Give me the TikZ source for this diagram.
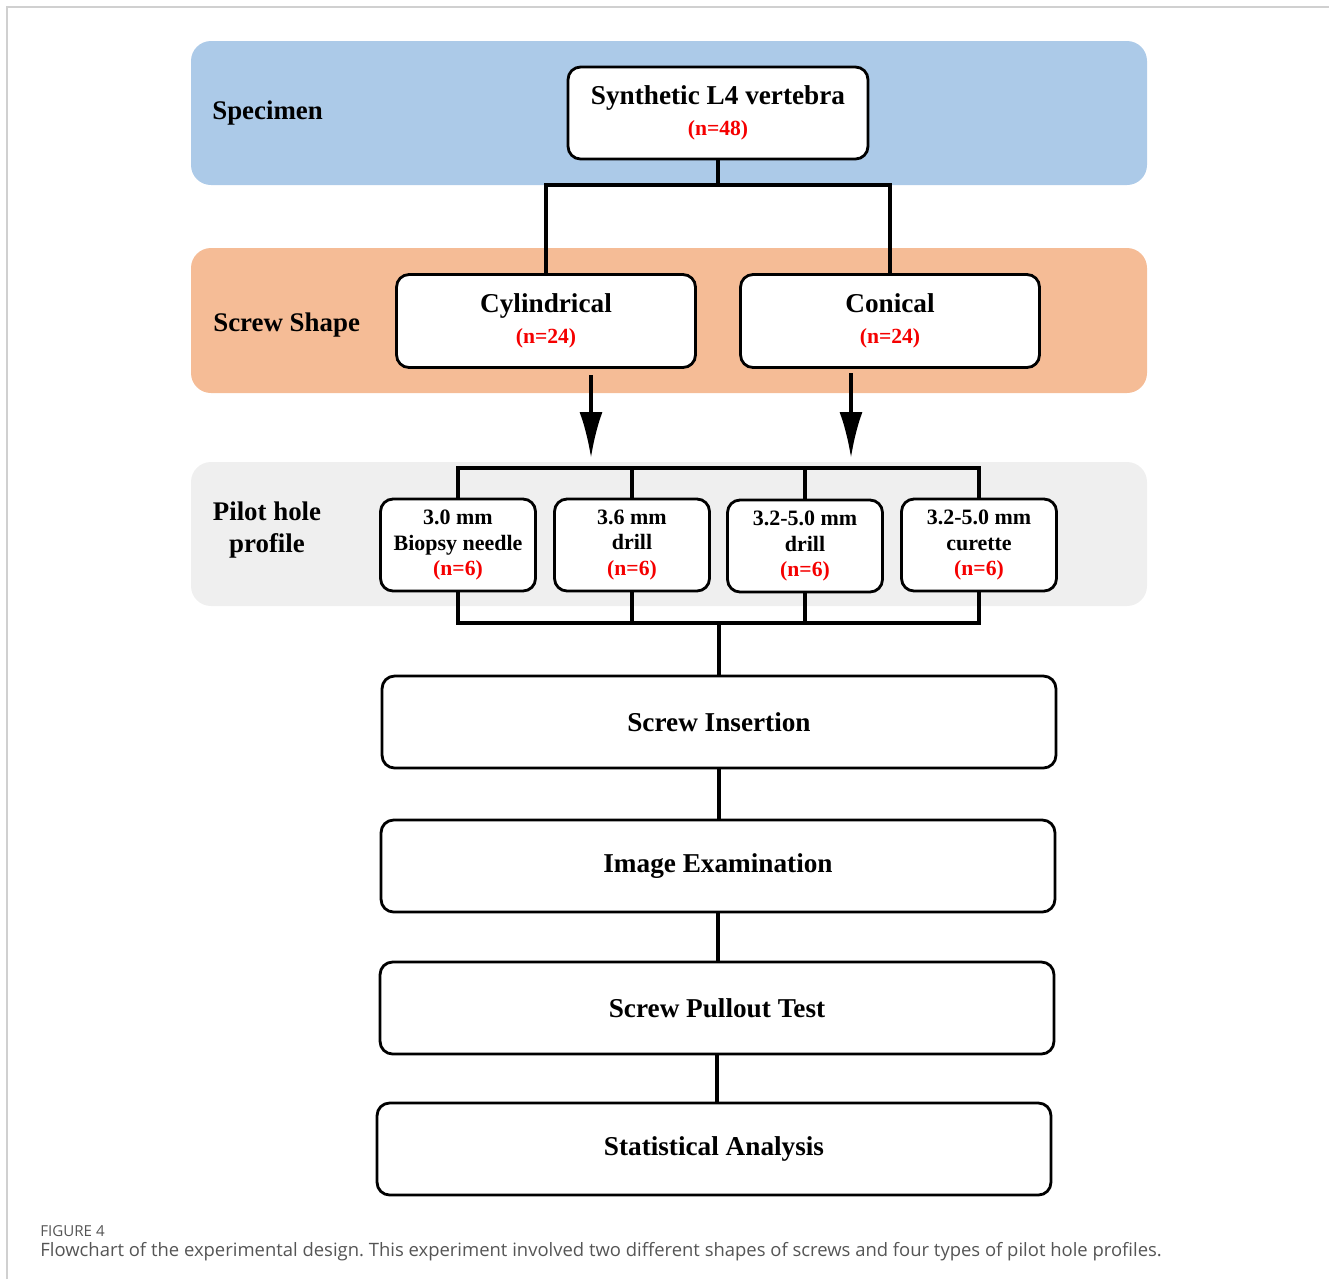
\documentclass[tikz,border=0pt]{standalone}
\usepackage{fontspec}
\setmainfont{Liberation Serif}
\newfontfamily\capfont{Open Sans}
\usetikzlibrary{arrows.meta}
\definecolor{specblue}{RGB}{172,202,232}
\definecolor{shapeorange}{RGB}{245,188,150}
\definecolor{holegray}{RGB}{239,239,239}
\definecolor{countred}{RGB}{245,0,0}
\definecolor{capgray}{RGB}{85,85,85}
\definecolor{framegray}{RGB}{208,208,208}
\tikzset{
  >=latex,
}
\tikzstyle{band}=[rounded corners=0.4cm]
\tikzstyle{bandlabel}=[inner sep=0,font=\bfseries\fontsize{15.3}{18}\selectfont]
\tikzstyle{stagebox}=[draw,line width=1.6pt,fill=white,rounded corners=0.25cm,
  align=center,font=\bfseries\fontsize{15.5}{18}\selectfont]
\tikzstyle{widebox}=[stagebox,minimum width=13.48cm,minimum height=1.84cm]
\tikzstyle{shapebox}=[stagebox,minimum width=5.98cm,minimum height=1.86cm]
\tikzstyle{holebox}=[stagebox,minimum width=3.1cm,minimum height=1.84cm,
  font=\bfseries\fontsize{12.5}{14.6}\selectfont]
\tikzstyle{link}=[line width=2.2pt]
\tikzstyle{bigarrow}=[line width=2.2pt,-{Latex[length=0.92cm,width=0.46cm]}]
\tikzstyle{captext}=[anchor=base west,inner sep=0,text=capgray]
\newcommand{\groupn}[1]{{\fontsize{12.3}{14}\selectfont\color{countred}#1}}

\begin{document}
\frenchspacing
\begin{tikzpicture}[x=0.02cm,y=-0.02cm]
    \useasboundingbox (0,0) rectangle (1329,1279);
    \draw[framegray,line width=0.6pt] (7,1279) -- (7,7) -- (1329,7);
    % stage bands
    \fill[specblue,band] (191,41) rectangle (1147,185);
    \fill[shapeorange,band] (191,248) rectangle (1147,393);
    \fill[holegray,band] (191,462) rectangle (1147,606);
    \node[bandlabel,anchor=west] (speclabel) at (212,113) {Specimen};
    \node[bandlabel,anchor=west] (shapelabel) at (213,325) {Screw Shape};
    \node[bandlabel,align=center] (holelabel) at (267,530) {Pilot hole\\profile};
    % boxes
    \node[stagebox,minimum width=6cm,minimum height=1.84cm] (vert) at (718,113)
      {Synthetic L4 vertebra\\\groupn{(n=48)}};
    \node[shapebox] (cyl) at (546,321) {Cylindrical\\\groupn{(n=24)}};
    \node[shapebox] (con) at (890,321) {Conical\\\groupn{(n=24)}};
    \node[holebox] (needle) at (458,545) {3.0 mm\\Biopsy needle\\\groupn{(n=6)}};
    \node[holebox] (drillA) at (632,545) {3.6 mm\\drill\\\groupn{(n=6)}};
    \node[holebox] (drillB) at (805,546) {3.2-5.0 mm\\drill\\\groupn{(n=6)}};
    \node[holebox] (curette) at (979,545) {3.2-5.0 mm\\curette\\\groupn{(n=6)}};
    \node[widebox] (insert) at (719,722) {Screw Insertion};
    \node[widebox] (image) at (718,866) {Image Examination};
    \node[widebox] (pullout) at (717,1008) {Screw Pullout Test};
    \node[widebox] (stats) at (714,1149) {Statistical Analysis};
    % connectors
    \coordinate (split) at (718,185);
    \draw[link] (vert.south) -- (split);
    \draw[link] (cyl.north) |- (split) -| (con.north);
    \coordinate (cylout) at (591,375);
    \coordinate (cylin) at (591,458);
    \coordinate (conout) at (851,373);
    \coordinate (conin) at (851,458);
    \draw[bigarrow] (cylout) -- (cylin);
    \draw[bigarrow] (conout) -- (conin);
    \coordinate (fanout) at (0,468);
    \coordinate (fanin) at (0,623);
    \draw[link] (needle.north) -- (needle.north |- fanout)
      -- (curette.north |- fanout) -- (curette.north);
    \draw[link] (drillA.north) -- (drillA.north |- fanout);
    \draw[link] (drillB.north) -- (drillB.north |- fanout);
    \draw[link] (needle.south) -- (needle.south |- fanin)
      -- (curette.south |- fanin) -- (curette.south);
    \draw[link] (drillA.south) -- (drillA.south |- fanin);
    \draw[link] (drillB.south) -- (drillB.south |- fanin);
    \draw[link] (insert.north |- fanin) -- (insert.north);
    \draw[link] (insert.south) -- (insert.south |- image.north);
    \draw[link] (image.south) -- (image.south |- pullout.north);
    \draw[link] (pullout.south) -- (pullout.south |- stats.north);
    % caption
    \node[captext,font=\capfont\fontsize{8.6}{10}\selectfont] (figno) at (40,1236) {FIGURE 4};
    \node[captext,font=\capfont\fontsize{10.5}{12}\selectfont] (caption) at (40,1256)
      {Flowchart of the experimental design. This experiment involved two different shapes of screws and four types of pilot hole profiles.};
\end{tikzpicture}
\end{document}
